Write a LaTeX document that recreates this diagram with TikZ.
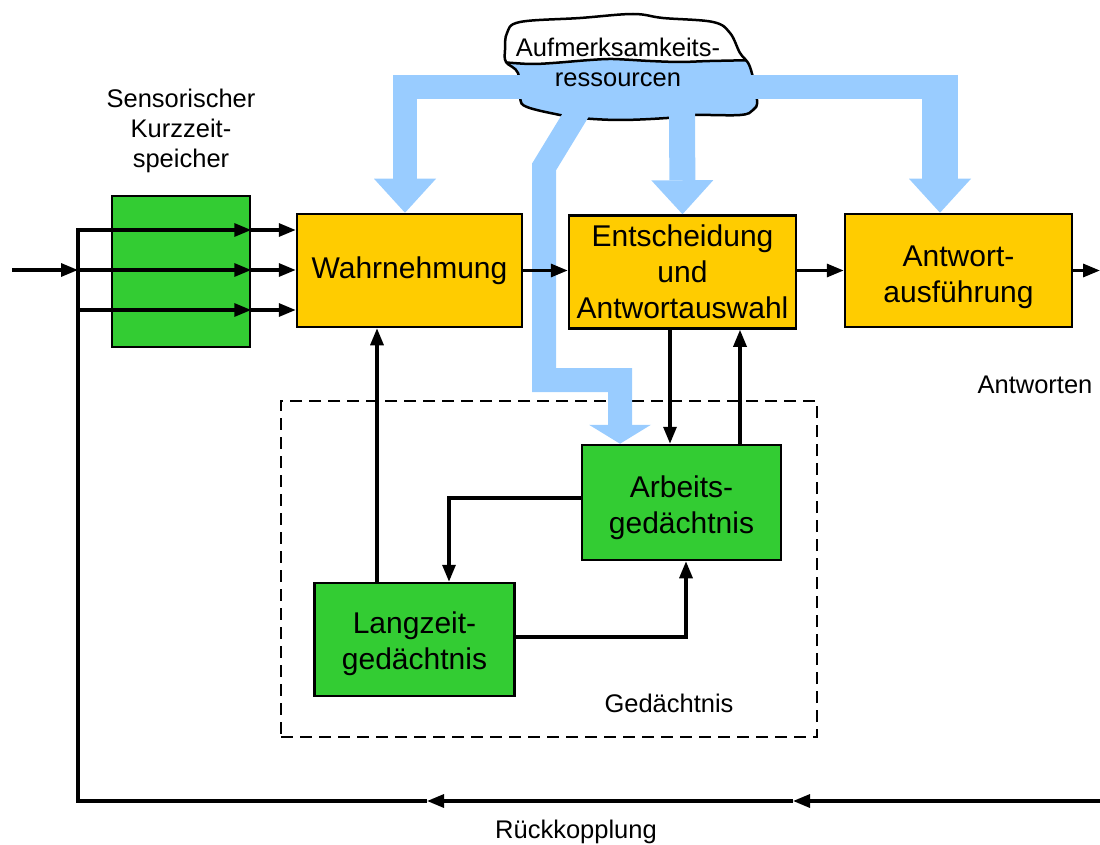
\documentclass[tikz,border=0pt]{standalone}
\usepackage{fontspec}
\setmainfont{Liberation Sans}
\usetikzlibrary{arrows.meta,positioning}
\definecolor{boxyellow}{RGB}{255,204,0}
\definecolor{boxgreen}{RGB}{51,204,51}
\definecolor{resblue}{RGB}{153,204,255}
\newcommand{\bigtext}{\fontsize{30}{36}\selectfont}
\newcommand{\smalltext}{\fontsize{25.5}{30}\selectfont}

\begin{document}
\begin{tikzpicture}[x=1pt,y=-1pt,>={Triangle[length=17pt,width=13pt]},
  stage/.style={draw,line width=2.5pt,fill=boxyellow,align=center,font=\bigtext,inner sep=2pt},
  mem/.style={draw,line width=2.5pt,fill=boxgreen,align=center,font=\bigtext,inner sep=2pt},
  conn/.style={line width=3.2pt},
  band/.style={draw=resblue,line width=#1},
  band/.default=24pt,
  bandtip/.style={-{Triangle[width=62pt,length=#1,line width=0pt]}},
  bandtip/.default=34pt,
  lbl/.style={font=\smalltext,align=center}]
\useasboundingbox (0,0) rectangle (1100,845);

% memory frame
\node[draw,line width=2pt,dash pattern=on 12pt off 7pt,minimum width=536pt,minimum height=336pt] (gedbox) at (549,569) {};

% boxes
\node[mem,minimum width=138pt,minimum height=151pt] (sens) at (181,271.5) {};
\node[stage,minimum width=225pt,minimum height=113pt] (wahr) at (409.5,270.5) {Wahrnehmung};
\node[stage,minimum width=227pt,minimum height=113pt] (ent) at (682.5,272) {Entscheidung\\und\\Antwortauswahl};
\node[stage,minimum width=227pt,minimum height=113pt] (ant) at (958.5,270.5) {\rule{0pt}{34pt}Antwort-\\ausführung};
\node[mem,minimum width=199pt,minimum height=115pt] (arb) at (681.5,502.5) {\rule{0pt}{32pt}Arbeits-\\gedächtnis};
\node[mem,minimum width=200pt,minimum height=113pt] (lang) at (414.5,639.5) {\rule{0pt}{30pt}Langzeit-\\gedächtnis};

% labels
\node[lbl] (senslbl) at (181,131) {Sensorischer\\Kurzzeit-\\speicher};
\node[lbl] (antlbl) at (1035,385) {Antworten};
\node[lbl] (gedlbl) at (669,703) {Gedächtnis};
\node[lbl] (rklbl) at (576,832) {Rückkopplung};

% cloud
\path[fill=white] plot[smooth cycle,tension=0.6] coordinates {(507,33) (520,22) (580,18) (633,14) (663,18) (713,22) (730,33) (740,53) (750,67) (757,100) (753,110) (740,115) (693,115) (667,118) (620,120) (580,118) (560,115) (527,107) (520,98) (518,73) (506,62) (505,50)};
\begin{scope}
\clip plot[smooth cycle,tension=0.6] coordinates {(507,33) (520,22) (580,18) (633,14) (663,18) (713,22) (730,33) (740,53) (750,67) (757,100) (753,110) (740,115) (693,115) (667,118) (620,120) (580,118) (560,115) (527,107) (520,98) (518,73) (506,62) (505,50)};
\fill[resblue] plot[smooth] coordinates {(500,62) (530,64) (553,63) (590,60) (613,59) (650,61) (680,62) (710,61) (760,60)} -- (760,130) -- (500,130) -- cycle;
\draw[line width=2.5pt] plot[smooth] coordinates {(500,62) (530,64) (553,63) (590,60) (613,59) (650,61) (680,62) (710,61) (760,60)};
\end{scope}
\draw[line width=2.5pt] plot[smooth cycle,tension=0.6] coordinates {(507,33) (520,22) (580,18) (633,14) (663,18) (713,22) (730,33) (740,53) (750,67) (757,100) (753,110) (740,115) (693,115) (667,118) (620,120) (580,118) (560,115) (527,107) (520,98) (518,73) (506,62) (505,50)};

% attention resources
\coordinate (resL) at (560,87);
\coordinate (resM) at (682,105);
\coordinate (resR) at (680,87);
\coordinate (resA) at (583,103);
\draw[band,bandtip] (resL) -| ([xshift=-4.5pt]wahr.north);
\draw[band=26pt,bandtip] (resM) -- (ent.north);
\draw[band] (resR) -- (958,87);
\draw[band=36pt,bandtip] (940,75) -- ([xshift=-18.5pt]ant.north);
\draw[band,bandtip=19pt] (resA) -- (544,167) |- (620,380) -- ([xshift=-61.5pt]arb.north);
\node[font=\smalltext,align=center,inner sep=0pt] (res) at (618,62) {Aufmerksamkeits-\\ressourcen};

% input and sensory store
\coordinate (in) at (12,270);
\coordinate (split) at (78,270);
\draw[conn,->] (in) -- (split);
\foreach \y in {270,310} {
  \draw[conn,->] (78,\y) -- (sens.east |- 0,\y);
}
\foreach \y in {230,270,310} {
  \draw[conn,->] (sens.east |- 0,\y) -- (wahr.west |- 0,\y);
}

% main flow
\coordinate (out) at (1100,270.5);
\draw[conn,->] (wahr.east) -- (ent.west |- wahr.east);
\draw[conn,->] (ent.east |- ant.west) -- (ant.west);
\draw[conn,->] (ant.east) -- (out);

% memory links
\draw[conn,->] (ent.south -| 670,0) -- (arb.north -| 670,0);
\draw[conn,->] (arb.north -| 740,0) -- (ent.south -| 740,0);
\draw[conn,->] (lang.north -| 377,0) -- (wahr.south -| 377,0);
\draw[conn,->] (arb.west |- 0,498) -| (lang.north -| 449,0);
\draw[conn,->] (lang.east |- 0,637) -| (arb.south -| 686,0);

% feedback
\coordinate (fbin) at (1100,801);
\coordinate (fbA) at (793,801);
\coordinate (fbB) at (427,801);
\coordinate (fbcorner) at (78,801);
\draw[conn,->] (fbin) -- (fbA);
\draw[conn,->] (fbA) -- (fbB);
\draw[conn,->] (fbB) -- (fbcorner) |- (sens.east |- 0,230);
\end{tikzpicture}
\end{document}
